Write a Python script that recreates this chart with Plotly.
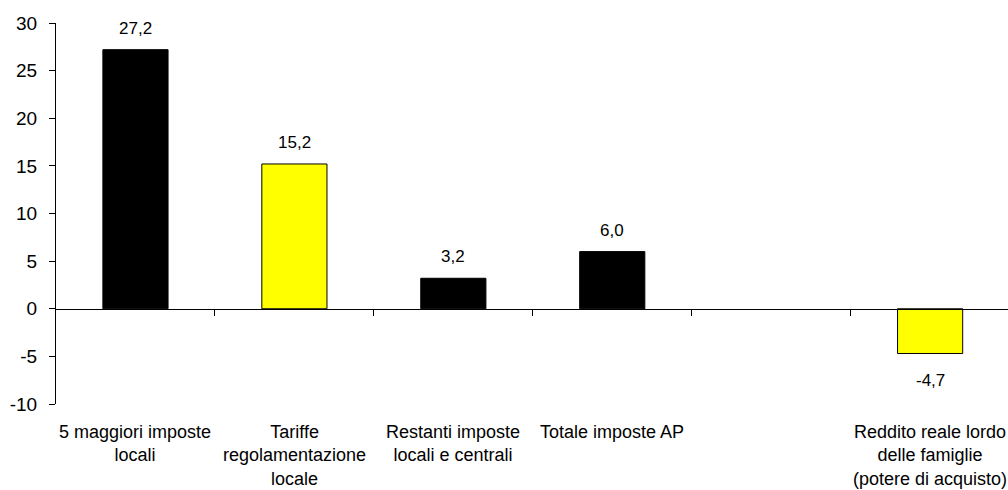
import plotly.graph_objects as go

# Variation (%) by component
categories = [
    "5 maggiori imposte<br>locali",
    "Tariffe<br>regolamentazione<br>locale",
    "Restanti imposte<br>locali e centrali",
    "Totale imposte AP",
    "",
    "Reddito reale lordo<br>delle famiglie<br>(potere di acquisto)",
]
values = [27.2, 15.2, 3.2, 6.0, None, -4.7]
bar_colors = ["#000000", "#FFFF00", "#000000", "#000000", "#000000", "#FFFF00"]
value_labels = ["27,2", "15,2", "3,2", "6,0", "", "-4,7"]
y_ticks = [-10, -5, 0, 5, 10, 15, 20, 25, 30]

FONT = "Liberation Sans, Arial, sans-serif"
xs = list(range(len(categories)))

fig = go.Figure()
fig.add_trace(go.Bar(
    x=xs,
    y=values,
    width=0.41,
    marker=dict(color=bar_colors, line=dict(color="#000000", width=1)),
    hoverinfo="skip",
))

annotations = []
for x, v, lab in zip(xs, values, value_labels):
    if v is None:
        continue
    if v >= 0:
        annotations.append(dict(x=x, y=v, xref="x", yref="y", text=lab, showarrow=False,
                                yanchor="bottom", yshift=10,
                                font=dict(family=FONT, size=17, color="#000000")))
    else:
        annotations.append(dict(x=x, y=v, xref="x", yref="y", text=lab, showarrow=False,
                                yanchor="top", yshift=-15,
                                font=dict(family=FONT, size=17, color="#000000")))

for x, cat in zip(xs, categories):
    if not cat:
        continue
    annotations.append(dict(x=x, y=0, xref="x", yref="paper", text=cat, showarrow=False,
                            yanchor="top", yshift=-16, align="center",
                            font=dict(family=FONT, size=18, color="#000000")))

fig.update_layout(
    width=1008,
    height=490,
    margin=dict(l=56, r=0, t=23, b=86),
    paper_bgcolor="#FFFFFF",
    plot_bgcolor="#FFFFFF",
    showlegend=False,
    font=dict(family=FONT, color="#000000"),
    annotations=annotations,
    xaxis=dict(
        range=[-0.5, 5.49],
        showticklabels=False,
        showgrid=False,
        zeroline=False,
        showline=False,
        ticks="",
    ),
    # category separators along the zero line
    xaxis2=dict(
        overlaying="x",
        anchor="free",
        position=0.25,
        side="bottom",
        range=[-0.5, 5.49],
        tickvals=[0.5, 1.5, 2.5, 3.5, 4.5],
        showticklabels=False,
        ticks="outside",
        ticklen=6,
        tickwidth=1,
        tickcolor="#000000",
        showline=True,
        linecolor="#000000",
        linewidth=1,
        showgrid=False,
        zeroline=False,
    ),
    yaxis=dict(
        range=[-10, 30],
        tickvals=y_ticks,
        ticktext=[str(t) for t in y_ticks],
        ticks="outside",
        ticklen=6,
        tickwidth=1,
        tickcolor="#000000",
        showline=True,
        linecolor="#000000",
        linewidth=1,
        showgrid=False,
        zeroline=False,
        ticklabelstandoff=8,
        tickfont=dict(family=FONT, size=19, color="#000000"),
    ),
)

# invisible trace so the zero-line axis is rendered
fig.add_trace(go.Scatter(x=[0], y=[0], xaxis="x2", mode="markers",
                         marker=dict(opacity=0), hoverinfo="skip"))

fig.write_html("out.html")
